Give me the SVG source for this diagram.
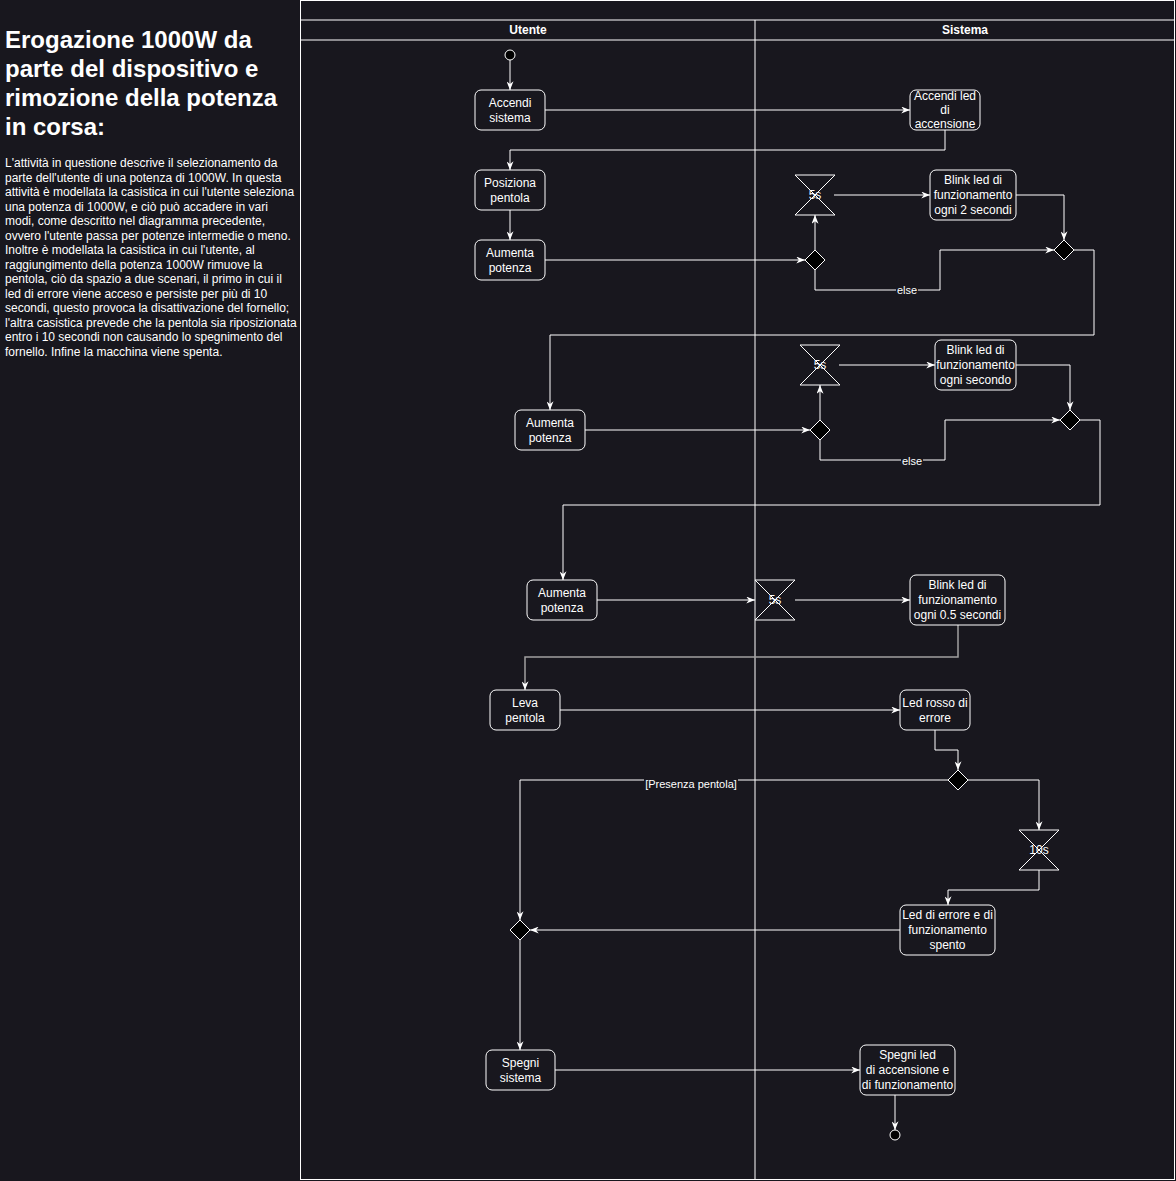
<svg xmlns="http://www.w3.org/2000/svg" width="1176" height="1181" viewBox="0 0 1176 1181">
<defs>
<style>
.bg{fill:#18171e}
.pool{fill:#18171e;stroke:#ffffff;stroke-width:1}
.node{fill:#18171e;stroke:#ffffff;stroke-width:1}
.dia{fill:#000000;stroke:#ffffff;stroke-width:1}
.t{font-family:"Liberation Sans",Arial,sans-serif;font-size:12px;fill:#ffffff;text-anchor:middle}
.hd{font-family:"Liberation Sans",Arial,sans-serif;font-size:12px;font-weight:bold;fill:#ffffff;text-anchor:middle}
.lbl{font-family:"Liberation Sans",Arial,sans-serif;font-size:11px;fill:#ffffff;text-anchor:middle}
.title{font-family:"Liberation Sans",Arial,sans-serif;font-size:24px;font-weight:bold;fill:#ffffff}
.desc{font-family:"Liberation Sans",Arial,sans-serif;font-size:12px;fill:#ffffff}
.c{fill:none;stroke:#ffffff;stroke-width:1}
.cg{fill:none;stroke:#a0a0a0;stroke-width:1.5}
</style>
<marker id="arr" viewBox="0 0 10 8" refX="10" refY="4" markerWidth="9" markerHeight="7" markerUnits="userSpaceOnUse" orient="auto">
<path d="M0,0 L10,4 L0,8 L3,4 Z" fill="#ffffff"/>
</marker>
</defs>
<rect class="bg" x="0" y="0" width="1176" height="1181"/>

<g id="description">
<text class="title" x="5" y="48">Erogazione 1000W da</text>
<text class="title" x="5" y="77">parte del dispositivo e</text>
<text class="title" x="5" y="106">rimozione della potenza</text>
<text class="title" x="5" y="135">in corsa:</text>
<text class="desc" x="5" y="167">L'attività in questione descrive il selezionamento da</text>
<text class="desc" x="5" y="181.5">parte dell'utente di una potenza di 1000W. In questa</text>
<text class="desc" x="5" y="196">attività è modellata la casistica in cui l'utente seleziona</text>
<text class="desc" x="5" y="210.5">una potenza di 1000W, e ciò può accadere in vari</text>
<text class="desc" x="5" y="225">modi, come descritto nel diagramma precedente,</text>
<text class="desc" x="5" y="239.5">ovvero l'utente passa per potenze intermedie o meno.</text>
<text class="desc" x="5" y="254">Inoltre è modellata la casistica in cui l'utente, al</text>
<text class="desc" x="5" y="268.5">raggiungimento della potenza 1000W rimuove la</text>
<text class="desc" x="5" y="283">pentola, ciò da spazio a due scenari, il primo in cui il</text>
<text class="desc" x="5" y="297.5">led di errore viene acceso e persiste per più di 10</text>
<text class="desc" x="5" y="312">secondi, questo provoca la disattivazione del fornello;</text>
<text class="desc" x="5" y="326.5">l'altra casistica prevede che la pentola sia riposizionata</text>
<text class="desc" x="5" y="341">entro i 10 secondi non causando lo spegnimento del</text>
<text class="desc" x="5" y="355.5">fornello. Infine la macchina viene spenta.</text>
</g>

<g id="pool">
<rect class="pool" x="300.5" y="0.5" width="874" height="1179"/>
<line class="c" x1="300.5" y1="20" x2="1174.5" y2="20"/>
<line class="c" x1="300.5" y1="40" x2="1174.5" y2="40"/>
<line class="c" x1="755" y1="20" x2="755" y2="1179.5"/>
<text class="hd" x="528" y="34">Utente</text>
<text class="hd" x="965" y="34">Sistema</text>
</g>

<g id="connectors">
<path class="c" d="M510,60 L510,90" marker-end="url(#arr)"/>
<path class="c" d="M545,110 L910,110" marker-end="url(#arr)"/>
<path class="c" d="M945,130 L945,150 L510,150 L510,170" marker-end="url(#arr)"/>
<path class="c" d="M510,210 L510,240" marker-end="url(#arr)"/>
<path class="c" d="M545,260 L805,260" marker-end="url(#arr)"/>
<path class="c" d="M815,250 L815,215" marker-end="url(#arr)"/>
<path class="c" d="M834,195 L930,195" marker-end="url(#arr)"/>
<path class="c" d="M1016,195 L1064,195 L1064,240" marker-end="url(#arr)"/>
<path class="c" d="M815,270 L815,290 L940,290 L940,250 L1054,250" marker-end="url(#arr)"/>
<path class="c" d="M1074,250 L1094,250 L1094,335 L550,335 L550,410" marker-end="url(#arr)"/>
<path class="c" d="M585,430 L810,430" marker-end="url(#arr)"/>
<path class="c" d="M820,420 L820,385" marker-end="url(#arr)"/>
<path class="c" d="M839,365 L935,365" marker-end="url(#arr)"/>
<path class="c" d="M1016,365 L1070,365 L1070,410" marker-end="url(#arr)"/>
<path class="c" d="M820,440 L820,460 L945,460 L945,420 L1060,420" marker-end="url(#arr)"/>
<path class="c" d="M1080,420 L1100,420 L1100,505 L563,505 L563,580" marker-end="url(#arr)"/>
<path class="c" d="M597,600 L755,600" marker-end="url(#arr)"/>
<path class="c" d="M795,600 L910,600" marker-end="url(#arr)"/>
<path class="cg" d="M958,625 L958,657 L525,657 L525,690" marker-end="url(#arr)"/>
<path class="c" d="M560,710 L900,710" marker-end="url(#arr)"/>
<path class="c" d="M935,730 L935,750 L958,750 L958,770" marker-end="url(#arr)"/>
<path class="c" d="M948,780 L520,780 L520,920" marker-end="url(#arr)"/>
<path class="c" d="M968,780 L1039,780 L1039,830" marker-end="url(#arr)"/>
<path class="c" d="M1039,870 L1039,890 L948,890 L948,905" marker-end="url(#arr)"/>
<path class="c" d="M900,930 L530,930" marker-end="url(#arr)"/>
<path class="c" d="M520,940 L520,1050" marker-end="url(#arr)"/>
<path class="c" d="M555,1070 L860,1070" marker-end="url(#arr)"/>
<path class="c" d="M895,1095 L895,1130" marker-end="url(#arr)"/>
<rect class="bg" x="896" y="284" width="22" height="12"/>
<text class="lbl" x="907" y="294">else</text>
<rect class="bg" x="901" y="455" width="22" height="12"/>
<text class="lbl" x="912" y="465">else</text>
<rect class="bg" x="644" y="779" width="94" height="12"/>
<text class="lbl" x="691" y="788">[Presenza pentola]</text>
</g>

<g id="start"><circle class="dia" cx="510" cy="55" r="5"/></g>
<g id="accendi-sistema"><rect class="node" x="475" y="90" width="70" height="40" rx="6"/><text class="t" x="510" y="107">Accendi</text><text class="t" x="510" y="122">sistema</text></g>
<g id="accendi-led"><rect class="node" x="910" y="90" width="70" height="40" rx="6"/><text class="t" x="945" y="100">Accendi led</text><text class="t" x="945" y="114">di</text><text class="t" x="945" y="128">accensione</text></g>
<g id="posiziona-pentola"><rect class="node" x="475" y="170" width="70" height="40" rx="6"/><text class="t" x="510" y="187">Posiziona</text><text class="t" x="510" y="202">pentola</text></g>
<g id="aumenta-1"><rect class="node" x="475" y="240" width="70" height="40" rx="6"/><text class="t" x="510" y="257">Aumenta</text><text class="t" x="510" y="272">potenza</text></g>
<g id="decision-1"><path class="dia" d="M815,250 L825,260 L815,270 L805,260 Z"/></g>
<g id="timer-1"><path class="node" d="M795,175 L835,175 L795,215 L835,215 Z"/><text class="t" x="815" y="199">5s</text></g>
<g id="blink-2s"><rect class="node" x="930" y="170" width="86" height="50" rx="6"/><text class="t" x="973" y="184">Blink led di</text><text class="t" x="973" y="199">funzionamento</text><text class="t" x="973" y="214">ogni 2 secondi</text></g>
<g id="merge-1"><path class="dia" d="M1064,240 L1074,250 L1064,260 L1054,250 Z"/></g>

<g id="aumenta-2"><rect class="node" x="515" y="410" width="70" height="40" rx="6"/><text class="t" x="550" y="427">Aumenta</text><text class="t" x="550" y="442">potenza</text></g>
<g id="decision-2"><path class="dia" d="M820,420 L830,430 L820,440 L810,430 Z"/></g>
<g id="timer-2"><path class="node" d="M800,345 L840,345 L800,385 L840,385 Z"/><text class="t" x="820" y="369">5s</text></g>
<g id="blink-1s"><rect class="node" x="935" y="340" width="81" height="50" rx="6"/><text class="t" x="975.5" y="354">Blink led di</text><text class="t" x="975.5" y="369">funzionamento</text><text class="t" x="975.5" y="384">ogni secondo</text></g>
<g id="merge-2"><path class="dia" d="M1070,410 L1080,420 L1070,430 L1060,420 Z"/></g>

<g id="aumenta-3"><rect class="node" x="527" y="580" width="70" height="40" rx="6"/><text class="t" x="562" y="597">Aumenta</text><text class="t" x="562" y="612">potenza</text></g>
<g id="timer-3"><path class="node" d="M755,580 L795,580 L755,620 L795,620 Z"/><text class="t" x="775" y="604">5s</text></g>
<g id="blink-05s"><rect class="node" x="910" y="575" width="95" height="50" rx="6"/><text class="t" x="957.5" y="589">Blink led di</text><text class="t" x="957.5" y="604">funzionamento</text><text class="t" x="957.5" y="619">ogni 0.5 secondi</text></g>

<g id="leva-pentola"><rect class="node" x="490" y="690" width="70" height="40" rx="6"/><text class="t" x="525" y="707">Leva</text><text class="t" x="525" y="722">pentola</text></g>
<g id="led-rosso"><rect class="node" x="900" y="690" width="70" height="40" rx="6"/><text class="t" x="935" y="707">Led rosso di</text><text class="t" x="935" y="722">errore</text></g>
<g id="decision-3"><path class="dia" d="M958,770 L968,780 L958,790 L948,780 Z"/></g>
<g id="timer-4"><path class="node" d="M1019,830 L1059,830 L1019,870 L1059,870 Z"/><text class="t" x="1039" y="854">10s</text></g>
<g id="led-spento"><rect class="node" x="900" y="905" width="95" height="50" rx="6"/><text class="t" x="947.5" y="919">Led di errore e di</text><text class="t" x="947.5" y="934">funzionamento</text><text class="t" x="947.5" y="949">spento</text></g>
<g id="merge-3"><path class="dia" d="M520,920 L530,930 L520,940 L510,930 Z"/></g>

<g id="spegni-sistema"><rect class="node" x="486" y="1050" width="69" height="40" rx="6"/><text class="t" x="520.5" y="1067">Spegni</text><text class="t" x="520.5" y="1082">sistema</text></g>
<g id="spegni-led"><rect class="node" x="860" y="1045" width="95" height="50" rx="6"/><text class="t" x="907.5" y="1059">Spegni led</text><text class="t" x="907.5" y="1074">di accensione e</text><text class="t" x="907.5" y="1089">di funzionamento</text></g>
<g id="end"><circle class="dia" cx="895" cy="1135" r="5"/></g>
</svg>
